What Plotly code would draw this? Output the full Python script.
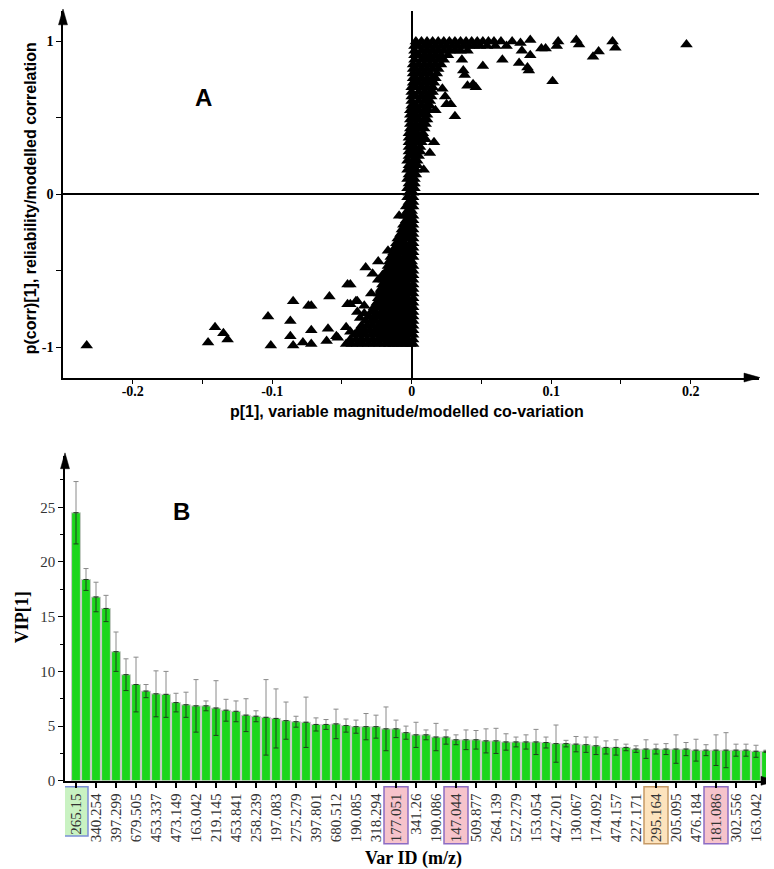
import plotly.graph_objects as go

W, H = 774, 869

# ---------------- Panel A data ----------------
neg_out_x = [-0.233, -0.141, -0.146, -0.135, -0.132, -0.103, -0.101, -0.085, -0.087, -0.087,
             -0.085, -0.074, -0.072, -0.072, -0.078, -0.072, -0.059, -0.060, -0.061, -0.054,
             -0.046, -0.046, -0.040, -0.039, -0.037, -0.034, -0.047, -0.033, -0.028, -0.024,
             -0.017, -0.009, -0.044, -0.024, -0.021, -0.029, -0.022, -0.044, -0.039, -0.034,
             -0.037, -0.053, -0.044, -0.037]
neg_out_y = [-0.99, -0.87, -0.97, -0.91, -0.95, -0.80, -0.99, -0.70, -0.83, -0.93,
             -0.99, -0.73, -0.73, -0.89, -0.97, -0.98, -0.67, -0.88, -0.96, -0.93,
             -0.59, -0.72, -0.70, -0.77, -0.81, -0.73, -0.87, -0.48, -0.52, -0.44,
             -0.37, -0.14, -0.59, -0.56, -0.53, -0.65, -0.63, -0.72, -0.70, -0.78,
             -0.90, -0.94, -0.90, -0.90]
pos_out_x = [0.197, 0.144, 0.146, 0.134, 0.130, 0.118, 0.120, 0.105, 0.104, 0.101,
             0.096, 0.093, 0.085, 0.085, 0.083, 0.084, 0.077, 0.078, 0.079, 0.065,
             0.051, 0.046, 0.044, 0.040, 0.037, 0.038, 0.036, 0.031, 0.028, 0.025,
             0.024, 0.022, 0.016, 0.013, 0.0086, 0.010, 0.017, 0.072, 0.068]
pos_out_y = [0.98, 1.00, 0.96, 0.935, 0.90, 1.01, 0.98, 1.00, 0.97, 0.74,
             0.955, 0.955, 1.01, 0.91, 0.83, 0.81, 0.86, 0.99, 0.94, 0.88,
             0.84, 0.70, 0.72, 0.71, 0.81, 0.78, 0.88, 0.51, 0.59, 0.59,
             0.64, 0.69, 0.34, 0.27, 0.16, 0.36, 0.55, 1.00, 0.97]

core_up_y = [1.00, 0.97, 0.94, 0.91, 0.88, 0.85, 0.82, 0.79, 0.76, 0.73, 0.70, 0.67, 0.64, 0.61,
             0.58, 0.55, 0.52, 0.49, 0.46, 0.43, 0.40, 0.37, 0.34, 0.31, 0.28, 0.25, 0.22, 0.19,
             0.16, 0.13, 0.10, 0.07, 0.04, 0.01]
core_up_x = [
    [0.003, 0.007, 0.011, 0.015, 0.019, 0.023, 0.027, 0.031, 0.035, 0.039, 0.043, 0.047, 0.051, 0.055, 0.059, 0.064],
    [0.002, 0.005, 0.009, 0.013, 0.017, 0.021, 0.025, 0.029, 0.033, 0.037, 0.041, 0.045, 0.049, 0.054, 0.060],
    [0.002, 0.007, 0.011, 0.015, 0.019, 0.023, 0.027, 0.031, 0.035, 0.040],
    [0.002, 0.005, 0.009, 0.013, 0.017, 0.021, 0.026],
    [0.002, 0.007, 0.011, 0.015, 0.019, 0.023],
    [0.001, 0.005, 0.009, 0.013, 0.017, 0.021],
    [0.001, 0.003, 0.007, 0.011, 0.015, 0.019],
    [0.001, 0.005, 0.009, 0.013, 0.018],
    [0.001, 0.003, 0.007, 0.011, 0.015, 0.017],
    [0.001, 0.005, 0.009, 0.013, 0.016],
    [0.000, 0.003, 0.007, 0.011, 0.015],
    [0.000, 0.005, 0.009, 0.013, 0.015],
    [0.000, 0.003, 0.007, 0.011, 0.014],
    [0.000, 0.005, 0.009, 0.013],
    [0.000, 0.003, 0.007, 0.011, 0.013],
    [-0.001, 0.002, 0.005, 0.009, 0.012],
    [-0.001, 0.003, 0.007, 0.011],
    [-0.001, 0.002, 0.005, 0.009, 0.011],
    [-0.001, 0.003, 0.007, 0.010],
    [-0.001, 0.002, 0.005, 0.009],
    [-0.002, 0.001, 0.004, 0.008],
    [-0.002, 0.002, 0.006, 0.008],
    [-0.002, 0.001, 0.004, 0.007],
    [-0.002, 0.002, 0.006],
    [-0.002, 0.001, 0.004, 0.006],
    [-0.002, 0.002, 0.005],
    [-0.003, 0.001, 0.004],
    [-0.002, 0.002, 0.004],
    [-0.003, 0.000, 0.003],
    [-0.002, 0.001, 0.003],
    [-0.003, 0.000, 0.002],
    [-0.002, 0.001, 0.002],
    [-0.003, 0.000, 0.002],
    [-0.002, 0.001],
]
core_lo_y = [-0.02, -0.05, -0.08, -0.11, -0.14, -0.17, -0.20, -0.23, -0.26, -0.29, -0.32, -0.35,
             -0.38, -0.41, -0.44, -0.47, -0.50, -0.53, -0.56, -0.59, -0.62, -0.65, -0.68, -0.71,
             -0.74, -0.77, -0.80, -0.83, -0.86, -0.89, -0.92, -0.95, -0.98]
core_lo_x = [
    [-0.003, 0.001],
    [-0.002, 0.001],
    [-0.004, -0.001, 0.001],
    [-0.003, 0.000],
    [-0.005, -0.002, 0.001],
    [-0.004, -0.001, 0.001],
    [-0.006, -0.003, 0.001],
    [-0.007, -0.004, -0.001, 0.001],
    [-0.008, -0.005, -0.002, 0.001],
    [-0.010, -0.007, -0.003, 0.001],
    [-0.011, -0.008, -0.005, -0.001, 0.001],
    [-0.012, -0.009, -0.006, -0.003, 0.001],
    [-0.013, -0.010, -0.007, -0.004, -0.001, 0.001],
    [-0.015, -0.012, -0.009, -0.005, -0.002, 0.001],
    [-0.016, -0.013, -0.010, -0.007, -0.004, 0.000],
    [-0.017, -0.014, -0.011, -0.008, -0.005, -0.002, 0.001],
    [-0.018, -0.015, -0.012, -0.009, -0.006, -0.003, 0.001],
    [-0.019, -0.016, -0.013, -0.010, -0.007, -0.004, -0.001, 0.001],
    [-0.020, -0.017, -0.014, -0.011, -0.008, -0.005, -0.002, 0.001],
    [-0.021, -0.018, -0.015, -0.012, -0.009, -0.006, -0.003, 0.001],
    [-0.022, -0.019, -0.016, -0.013, -0.010, -0.007, -0.004, -0.001, 0.001],
    [-0.023, -0.020, -0.017, -0.014, -0.011, -0.008, -0.005, -0.002, 0.001],
    [-0.024, -0.021, -0.018, -0.015, -0.012, -0.009, -0.006, -0.003, 0.001],
    [-0.025, -0.022, -0.019, -0.016, -0.013, -0.010, -0.007, -0.004, -0.001, 0.001],
    [-0.027, -0.024, -0.021, -0.018, -0.015, -0.012, -0.009, -0.006, -0.003, 0.001],
    [-0.029, -0.026, -0.022, -0.019, -0.016, -0.013, -0.010, -0.007, -0.004, -0.001, 0.001],
    [-0.031, -0.027, -0.024, -0.021, -0.018, -0.015, -0.012, -0.009, -0.006, -0.003, 0.001],
    [-0.033, -0.029, -0.026, -0.022, -0.019, -0.016, -0.013, -0.010, -0.007, -0.004, -0.001, 0.001],
    [-0.036, -0.032, -0.028, -0.024, -0.021, -0.018, -0.015, -0.012, -0.009, -0.006, -0.003, 0.001],
    [-0.038, -0.034, -0.030, -0.026, -0.023, -0.020, -0.017, -0.014, -0.011, -0.008, -0.005, -0.002, 0.001],
    [-0.041, -0.037, -0.033, -0.029, -0.025, -0.022, -0.019, -0.016, -0.013, -0.010, -0.007, -0.004, -0.001, 0.001],
    [-0.044, -0.040, -0.036, -0.032, -0.028, -0.024, -0.021, -0.018, -0.015, -0.012, -0.009, -0.006, -0.003, 0.001],
    [-0.047, -0.043, -0.039, -0.035, -0.031, -0.027, -0.023, -0.019, -0.016, -0.013, -0.010, -0.007, -0.004, -0.001, 0.001],
]

a_xticks = [-0.2, -0.1, 0, 0.1, 0.2]
a_xticktext = ["-0.2", "-0.1", "0", "0.1", "0.2"]
a_yticks = [-1, 0, 1]
a_yticktext = ["-1", "0", "1"]

# ---------------- Panel B data ----------------
vip = [24.5, 18.4, 16.8, 15.75, 11.8, 9.7, 8.8, 8.2, 7.95, 7.9,
       7.15, 6.95, 6.85, 6.85, 6.65, 6.45, 6.35, 6.0, 5.9, 5.8,
       5.7, 5.5, 5.4, 5.35, 5.15, 5.15, 5.2, 5.05, 4.95, 4.95,
       4.95, 4.75, 4.75, 4.4, 4.2, 4.2, 4.0, 4.0, 3.75, 3.75,
       3.75, 3.65, 3.65, 3.55, 3.55, 3.55, 3.55, 3.5, 3.4, 3.4,
       3.35, 3.3, 3.2, 3.05, 3.05, 3.05, 2.9, 2.9, 2.9, 2.9,
       2.9, 2.9, 2.8, 2.8, 2.8, 2.8, 2.8, 2.8, 2.7, 2.7]
vip_err = [2.85, 1.0, 1.35, 1.2, 1.8, 1.45, 2.5, 0.6, 2.1, 2.1,
           0.85, 1.15, 2.4, 0.45, 2.5, 1.0, 0.95, 1.5, 0.5, 3.45,
           2.7, 1.7, 0.5, 2.3, 0.6, 0.45, 1.35, 0.6, 0.6, 1.2,
           1.05, 2.0, 0.8, 0.6, 1.15, 0.45, 1.25, 0.65, 0.45, 0.9,
           0.85, 1.1, 1.15, 0.75, 0.45, 0.65, 1.15, 0.5, 1.7, 0.3,
           0.7, 0.7, 0.8, 0.6, 0.7, 0.3, 0.3, 0.85, 0.45, 0.5,
           1.3, 0.6, 1.0, 0.5, 1.4, 1.6, 0.55, 0.55, 0.55, 0.1]
var_labels = ["265.15", "340.254", "397.299", "679.505", "453.337", "473.149", "163.042",
              "219.145", "453.841", "258.239", "197.083", "275.279", "397.801", "680.512",
              "190.085", "318.294", "177.051", "341.26", "190.086", "147.044", "509.877",
              "264.139", "527.279", "153.054", "427.201", "130.067", "174.092", "474.157",
              "227.171", "295.164", "205.095", "476.184", "181.086", "302.556", "163.042"]
highlight_labels = ["265.15", "177.051", "147.044", "295.164", "181.086"]
highlight_fill = ["#c9f2c2", "#f6c3cb", "#f6c3cb", "#fde3bd", "#f6c3cb"]
highlight_edge = ["#7b8fd6", "#8c6cc4", "#8c6cc4", "#c69a66", "#8c6cc4"]

# ---------------- build ----------------
pA_x, pA_y = [], []
for yv, xs in zip(core_up_y, core_up_x):
    pA_x += xs
    pA_y += [yv] * len(xs)
for yv, xs in zip(core_lo_y, core_lo_x):
    pA_x += xs
    pA_y += [yv] * len(xs)
pA_x += neg_out_x + pos_out_x
pA_y += neg_out_y + pos_out_y

bar_idx = list(range(len(vip)))
tick_idx = bar_idx[::2][:len(var_labels)]

fig = go.Figure()
fig.add_trace(go.Scatter(x=pA_x, y=pA_y, mode="markers", xaxis="x", yaxis="y",
                         marker=dict(symbol="triangle-up", size=11, color="black", line=dict(width=0)),
                         showlegend=False, hoverinfo="skip"))
fig.add_trace(go.Bar(x=bar_idx, y=vip, xaxis="x2", yaxis="y2",
                     marker=dict(color="#1cd61c", line=dict(color="#c9c9c9", width=1)),
                     error_y=dict(type="data", symmetric=False, array=vip_err, arrayminus=[0] * len(vip),
                                  color="#8a8a8a", thickness=1, width=2.5),
                     showlegend=False, hoverinfo="skip"))
fig.add_trace(go.Scatter(x=bar_idx, y=vip, mode="markers", xaxis="x2", yaxis="y2",
                         marker=dict(size=1, color="rgba(0,0,0,0)"),
                         error_y=dict(type="data", symmetric=False, array=[0] * len(vip), arrayminus=vip_err,
                                      color="#1d3f1d", thickness=1, width=2.5),
                         showlegend=False, hoverinfo="skip"))


def px(x):
    return x / W


def py(y):
    return 1 - y / H


serif_b = dict(family="Liberation Serif, Times New Roman, serif", size=14, color="black", weight="bold")
fig.update_layout(
    width=W, height=H, margin=dict(l=0, r=0, t=0, b=0),
    paper_bgcolor="white", plot_bgcolor="white", showlegend=False, bargap=0.12,
    xaxis=dict(domain=[px(55), px(751)], range=[-0.25, 0.249], anchor="y",
               showline=True, linecolor="black", linewidth=1.5, showgrid=False,
               zeroline=True, zerolinecolor="black", zerolinewidth=1.5,
               tickmode="array", tickvals=a_xticks, ticktext=a_xticktext,
               ticks="outside", ticklen=5, tickwidth=1.2, tickcolor="black", tickfont=serif_b,
               ticklabelstandoff=-5,
               minor=dict(tickvals=[-0.15, -0.05, 0.05, 0.15], ticks="outside", ticklen=5,
                          tickwidth=1.2, tickcolor="black")),
    yaxis=dict(domain=[py(373), py(3)], range=[-1.2, 1.2], anchor="x",
               showline=True, linecolor="black", linewidth=1.5, showgrid=False,
               zeroline=True, zerolinecolor="black", zerolinewidth=1.5,
               tickmode="array", tickvals=a_yticks, ticktext=a_yticktext,
               ticks="outside", ticklen=5, tickwidth=1.2, tickcolor="black", tickfont=serif_b,
               ticklabelstandoff=0,
               minor=dict(tickvals=[-0.5, 0.5], ticks="outside", ticklen=5,
                          tickwidth=1.2, tickcolor="black")),
    xaxis2=dict(domain=[px(57), px(768)], range=[-1.1, 70.0], anchor="y2",
                showline=True, linecolor="black", linewidth=1.5, showgrid=False, zeroline=False,
                tickmode="array", tickvals=tick_idx, ticktext=var_labels, tickangle=-90,
                ticks="outside", ticklen=5, tickwidth=1.5, tickcolor="black",
                tickfont=dict(family="Liberation Serif, Times New Roman, serif", size=15, color="#333")),
    yaxis2=dict(domain=[py(780), py(452)], range=[0, 29.7], anchor="x2",
                showline=True, linecolor="black", linewidth=1.5, showgrid=False, zeroline=False,
                tickmode="array", tickvals=[0, 5, 10, 15, 20, 25],
                ticks="outside", ticklen=5, tickwidth=1.2, tickcolor="black",
                tickfont=dict(family="Liberation Serif, Times New Roman, serif", size=15, color="#333"),
                minor=dict(dtick=2.5, ticks="outside", ticklen=3, tickwidth=1, tickcolor="black")),
)

ann = [
    dict(text="<b>A</b>", x=px(195), y=py(90), font=dict(family="Liberation Sans, Arial", size=24, color="black")),
    dict(text="<b>B</b>", x=px(173), y=py(508), font=dict(family="Liberation Sans, Arial", size=24, color="black")),
    dict(text="<b>p[1], variable magnitude/modelled co-variation</b>", x=px(399), y=py(407),
         font=dict(family="Liberation Sans, Arial", size=16, color="black")),
    dict(text="<b>p(corr)[1], reliability/modelled correlation</b>", x=px(22), y=py(192), textangle=-90,
         font=dict(family="Liberation Sans, Arial", size=16, color="black")),
    dict(text="<b>VIP[1]</b>", x=px(14), y=py(615), textangle=-90,
         font=dict(family="Liberation Serif, Times New Roman, serif", size=18, color="black")),
    dict(text="<b>Var ID (m/z)</b>", x=px(405), y=py(858),
         font=dict(family="Liberation Serif, Times New Roman, serif", size=18, color="black")),
]
for a in ann:
    a.update(xref="paper", yref="paper", showarrow=False, xanchor="center", yanchor="middle")
fig.update_layout(annotations=ann)

shapes = []


def tri(pts):
    d = "M " + " L ".join(f"{px(a):.5f},{py(b):.5f}" for a, b in pts) + " Z"
    return dict(type="path", path=d, xref="paper", yref="paper", fillcolor="black",
                line=dict(color="black", width=0.5), layer="above")


shapes.append(tri([(55, 1), (50.5, 17), (59.5, 17)]))
shapes.append(tri([(752, 373), (736, 368.5), (736, 377.5)]))
shapes.append(tri([(57, 449), (52.5, 465), (61.5, 465)]))
shapes.append(tri([(769, 780), (753, 775.5), (753, 784.5)]))

for lab, fc, ec in zip(highlight_labels, highlight_fill, highlight_edge):
    i = tick_idx[var_labels.index(lab)]
    bottom = 789 + 7.8 * len(lab)
    shapes.append(dict(type="rect", xref="x2", yref="paper", x0=i - 1.2, x1=i + 1.2,
                       y0=py(bottom), y1=py(786), fillcolor=fc, line=dict(color=ec, width=1.5),
                       layer="below"))
fig.update_layout(shapes=shapes)

fig.write_html("out.html")
